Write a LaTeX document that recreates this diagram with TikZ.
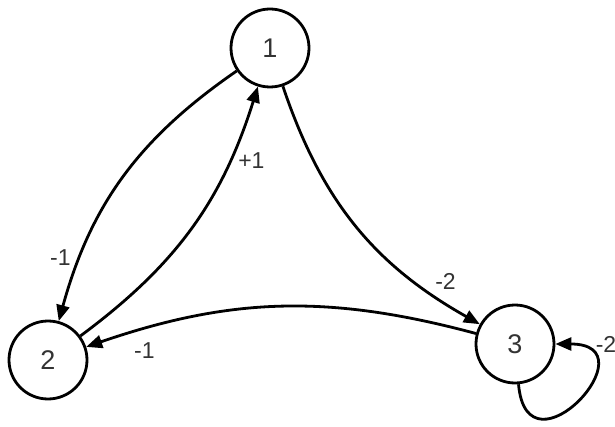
\documentclass[tikz,border=0pt]{standalone}
\usepackage{fontspec}
\setmainfont{Liberation Sans}
\usetikzlibrary{arrows.meta}

\begin{document}
\begin{tikzpicture}[x=1pt, y=1pt,
    state/.style={draw, circle, line width=2.8pt, minimum size=78pt, inner sep=0pt, font=\fontsize{27}{30}\selectfont, text=black!80},
    link/.style={-{Triangle[length=16pt, width=13pt]}, line width=2.8pt},
    weight/.style={font=\fontsize{23}{26}\selectfont, text=black!80, inner sep=1pt},
]
  \useasboundingbox (0,0) rectangle (615,426);
  \node[state] (n1) at (270,378) {1};
  \node[state] (n2) at (48,66) {2};
  \node[state] (n3) at (515,82) {3};

  % edges between the three states
  \draw[link] (n1) to[bend right=20] node[weight, left=7pt, pos=0.8] {-1} (n2);
  \draw[link] (n2) to[bend right=18] node[weight, right=6pt, pos=0.76] {+1} (n1);
  \draw[link] (n1) to[bend right=21] node[weight, right=18pt, pos=0.77] {-2} (n3);
  \draw[link] (n3) to[bend right=17] node[weight, below=12pt, pos=0.86] {-1} (n2);
  % self loop
  \draw[link] (n3) to[out=-85, in=0, looseness=4.6] node[weight, right=38pt, pos=1] {-2} (n3);
\end{tikzpicture}
\end{document}
